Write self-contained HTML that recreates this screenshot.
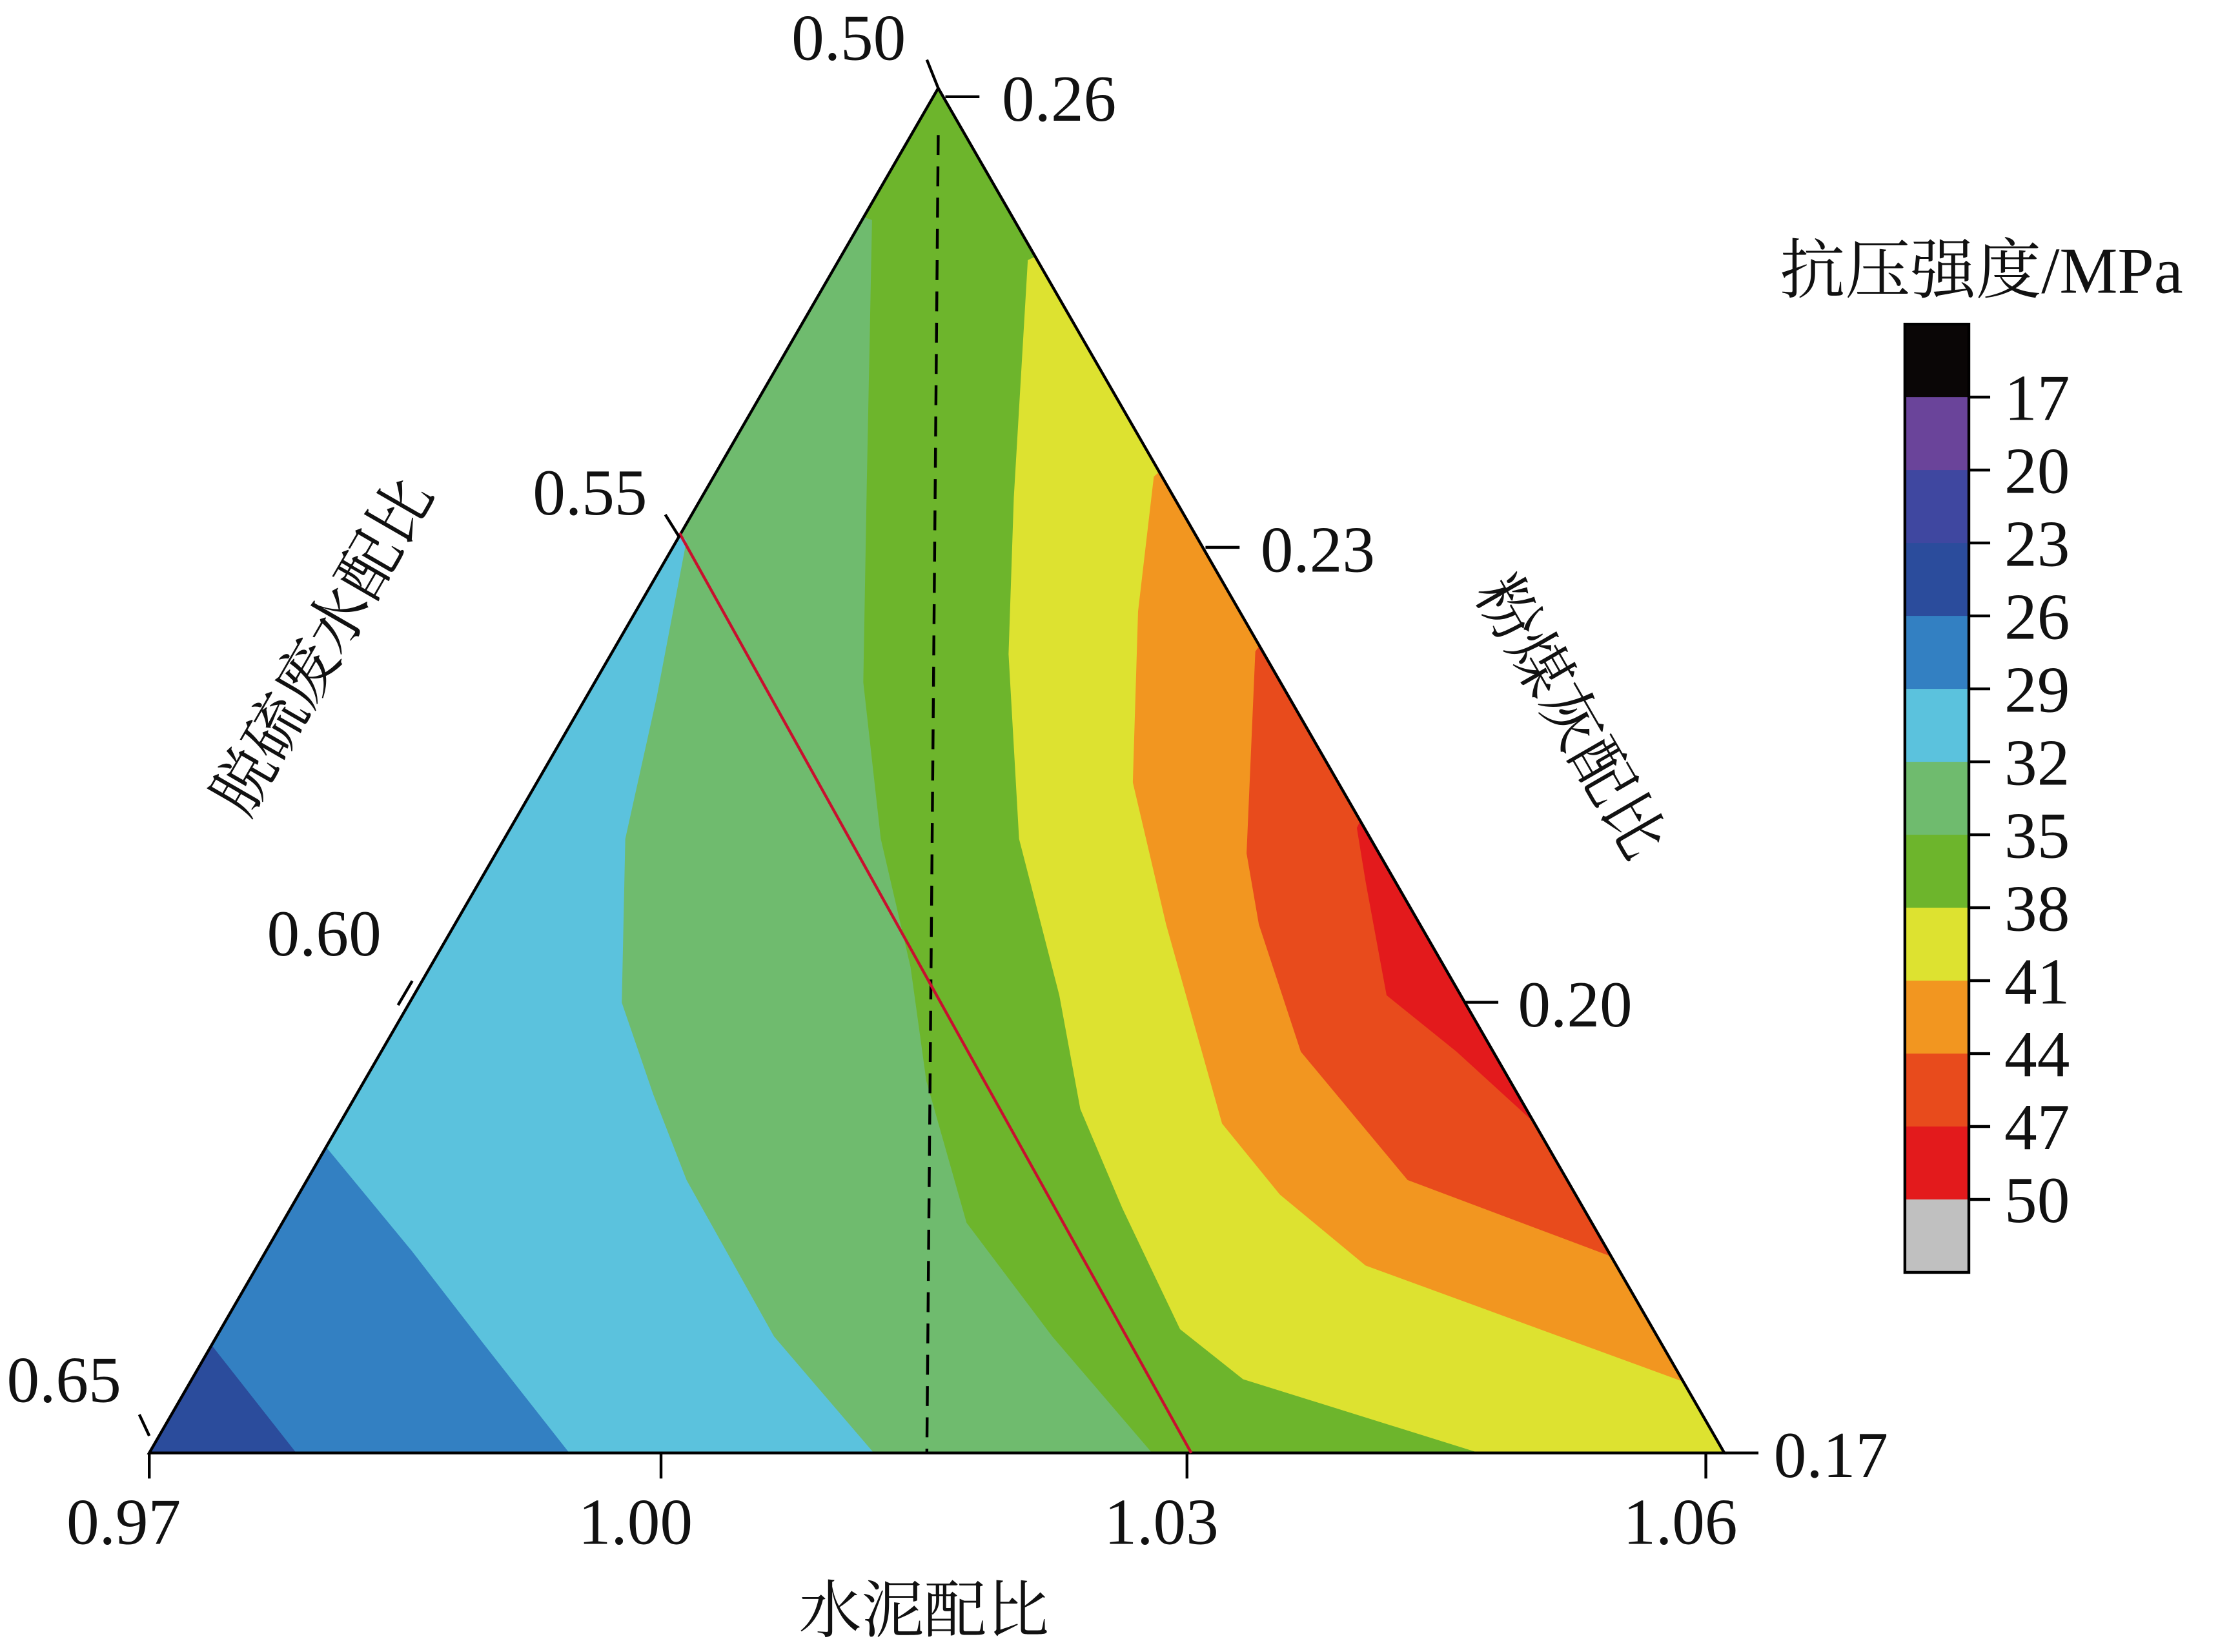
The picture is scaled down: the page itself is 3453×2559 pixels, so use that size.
<!DOCTYPE html>
<html><head><meta charset="utf-8"><style>
html,body{margin:0;padding:0;background:#fff;}
svg{display:block;}
text{font-family:"Liberation Serif","Noto Serif CJK SC",serif;fill:#111;}
</style></head><body>
<svg id="chart" width="3453" height="2559" viewBox="0 0 1568 1162" xmlns="http://www.w3.org/2000/svg">
<defs><clipPath id="tri"><polygon points="660,62 105,1022 1213,1022"/></clipPath></defs>
<g id="regions" clip-path="url(#tri)"></g>
<g id="overlay"></g>
<g id="cbar"></g>
</svg>
<script>
// contour level colors, left to right across triangle
const regionColors=["#2b4c9c","#3380c2","#5bc2dd","#6fbb6e","#6db52c","#dde230","#f29620","#e84b1c","#e31a1c"];
// boundary cement-ratio values (x) and desulfurization-ratio values (y)
const b1c=[0.9735,0.9784]; const b1g=[0.6380,0.65];
const b2c=[0.9802,0.9850,0.9891,0.9940]; const b2g=[0.6166,0.6278,0.6380,0.65];
const b3c=[1.0007,0.9990,0.9972,0.9970,0.9988,1.0007,1.0057,1.0114]; const b3g=[0.5497,0.5669,0.5825,0.6005,0.6106,0.6200,0.6372,0.65];
const b4c=[1.0113,1.0110,1.0108,1.0118,1.0135,1.0144,1.0167,1.0216,1.0273]; const b4g=[0.5145,0.5434,0.5653,0.5825,0.5966,0.6091,0.6247,0.6372,0.65];
const b5c=[1.0202,1.0194,1.0191,1.0197,1.0220,1.0232,1.0256,1.0289,1.0325,1.0460]; const b5g=[0.5189,0.5450,0.5622,0.5825,0.5997,0.6122,0.6231,0.6364,0.6419,0.65];
const b6c=[1.0274,1.0265,1.0262,1.0281,1.0313,1.0346,1.0395,1.0577]; const b6g=[0.5427,0.5575,0.5763,0.5919,0.6138,0.6216,0.6294,0.6422];
const b7c=[1.0332,1.0327,1.0334,1.0358,1.0419,1.0538]; const b7g=[0.5619,0.5841,0.5919,0.6059,0.6200,0.6286];
const b8c=[1.0390,1.0395,1.0407,1.0447,1.0492]; const b8g=[0.5813,0.5872,0.5997,0.6059,0.6138];
const boundaries=[[b1c,b1g],[b2c,b2g],[b3c,b3g],[b4c,b4g],[b5c,b5g],[b6c,b6g],[b7c,b7g],[b8c,b8g]];
const cementTicks=["0.97","1.00","1.03","1.06"];
const desulfTicks=["0.50","0.55","0.60","0.65"];
const ashTicks=["0.26","0.23","0.20","0.17"];
const cbarColors=["#0a0606","#6a449a","#3f47a0","#2b4c9c","#3380c2","#5bc2dd","#6fbb6e","#6db52c","#dde230","#f29620","#e84b1c","#e31a1c","#c0c0c0"];
const cbarLabels=["17","20","23","26","29","32","35","38","41","44","47","50"];

const NS="http://www.w3.org/2000/svg";
const X=c=>105+(c-0.97)/0.09*1108;
const Y=g=>62+(g-0.5)/0.15*960;
function mk(tag,attrs,parent){const e=document.createElementNS(NS,tag);for(const k in attrs)e.setAttribute(k,attrs[k]);parent.appendChild(e);return e;}
const reg=document.getElementById('regions');
const ov=document.getElementById('overlay');
let r0=mk('polygon',{points:"660,62 105,1022 1213,1022",fill:regionColors[0]},reg);


boundaries.forEach((b,i)=>{
  const pts=b[0].map((c,j)=>[X(c),Y(b[1][j])]);
  const f=pts[0],l=pts[pts.length-1];
  const leftEdgeX=660-(f[1]-62)*0.578;
  let poly=pts.slice();
  if(l[1]>=1020)poly.push([l[0],1100]);else poly.push([1300,l[1]+100]);
  poly.push([1300,1100],[1300,-100]);
  if(Math.abs(f[0]-leftEdgeX)<Math.abs(f[0]-(660+(f[1]-62)*0.578)))poly.push([-100,-100]);
  const p=mk('polygon',{points:poly.map(q=>q.join(',')).join(' '),fill:regionColors[i+1]},reg);
  
  
});
let t=mk('polygon',{points:"660,62 105,1022 1213,1022",fill:"none",stroke:"#000","stroke-width":2},ov);


let d=mk('line',{x1:660,y1:95,x2:652,y2:1022,stroke:"#000","stroke-width":2,"stroke-dasharray":"14,8"},ov);


let rl=mk('line',{x1:478,y1:375,x2:838,y2:1022,stroke:"#c8102e","stroke-width":2},ov);


function txt(s,x,y,size,anchor,name,rot){const e=mk('text',{x:x,y:y,"font-size":size,"text-anchor":anchor||"middle"},ov);if(rot!==undefined)e.setAttribute('transform',`rotate(${rot} ${x} ${y})`);e.textContent=s;return e;}
function tk(x1,y1,x2,y2){const e=mk('line',{x1,y1,x2,y2,stroke:"#000","stroke-width":2},ov);}
[105,465,835,1200].forEach((x,i)=>{tk(x,1022,x,1040);txt(cementTicks[i],x-18,1086,46,"middle","cement-tick-label");});
[[660,62,652,42,597,42],[478,378,468,362,415,362],[290,690,280,707,228,672],[105,1010,98,995,45,986]].forEach((a,i)=>{tk(a[0],a[1],a[2],a[3]);txt(desulfTicks[i],a[4],a[5],46,"middle","desulf-tick-label");});
[[665,68,745],[848,385,927],[1030,705,1108],[1213,1022,1288]].forEach((a,i)=>{tk(a[0],a[1],a[0]+24,a[1]);txt(ashTicks[i],a[2],a[1]+17,46,"middle","ash-tick-label");});
txt("水泥配比",650,1148,44,"middle","cement-axis-title");
txt("脱硫废水配比",240,462,44,"middle","desulf-axis-title",-60);
txt("粉煤灰配比",1092,512,44,"middle","ash-axis-title",60);
const cb=document.getElementById('cbar');
const bh=(895-228)/cbarColors.length;
cbarColors.forEach((c,i)=>{const r=mk('rect',{x:1340,y:228+i*bh,width:45,height:bh+0.5,fill:c},cb);});
let fr=mk('rect',{x:1340,y:228,width:45,height:667,fill:"none",stroke:"#000","stroke-width":2},cb);


cbarLabels.forEach((s,i)=>{const y=228+(i+1)*bh;const l=mk('line',{x1:1385,y1:y,x2:1400,y2:y,stroke:"#000","stroke-width":2},cb);const e=mk('text',{x:1410,y:y+16,"font-size":46},cb);e.textContent=s;});
const ct=mk('text',{x:1252,y:206,"font-size":46},cb);ct.textContent="抗压强度/MPa";


</script>
</body></html>
